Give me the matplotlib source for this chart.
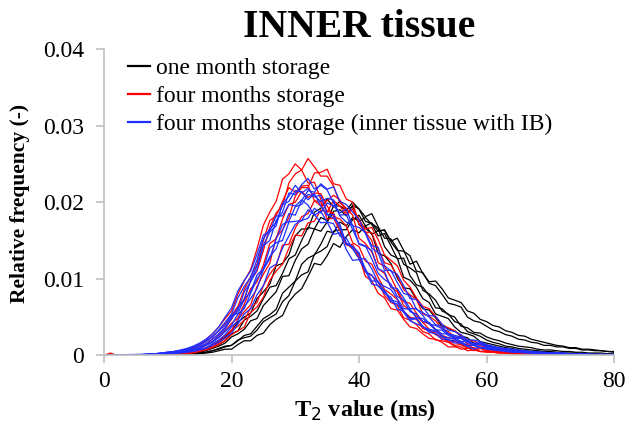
import numpy as np
import matplotlib.pyplot as plt
from matplotlib.lines import Line2D
from matplotlib.ticker import FuncFormatter

plt.rcParams['font.family'] = ['Liberation Serif', 'DejaVu Serif']

# T2 grid (ms), one histogram bin per ms
t2 = np.arange(0, 81)

# relative frequency, in units of 1e-4
# one month storage
one_month = [
    [0, 0, 0, 0, 0, 0, 0, 0, 0, 0,
     0, 1, 1, 2, 3, 5, 7, 10, 14, 19,
     28, 32, 46, 51, 58, 74, 89, 91, 107, 126,
     131, 150, 167, 165, 180, 176, 195, 195, 189, 200,
     191, 175, 172, 166, 142, 131, 127, 102, 98, 89,
     74, 69, 54, 51, 48, 37, 30, 28, 25, 18,
     16, 14, 12, 10, 9, 7, 6, 5, 5, 4,
     4, 3, 3, 2, 2, 2, 1, 1, 1, 1, 1],
    [0, 0, 0, 0, 0, 0, 0, 0, 0, 0,
     1, 1, 2, 3, 4, 6, 9, 13, 18, 24,
     32, 43, 50, 55, 74, 83, 93, 117, 120, 131,
     156, 165, 165, 187, 192, 204, 194, 201, 191, 194,
     171, 166, 159, 133, 130, 120, 101, 88, 87, 73,
     61, 59, 49, 38, 35, 32, 25, 23, 16, 16,
     13, 11, 9, 8, 7, 6, 5, 4, 4, 3,
     3, 2, 2, 2, 2, 1, 1, 1, 1, 1, 0],
    [0, 0, 0, 0, 0, 0, 0, 0, 0, 0,
     0, 1, 1, 2, 3, 4, 6, 9, 12, 16,
     24, 28, 34, 45, 48, 65, 74, 83, 103, 104,
     124, 139, 145, 165, 162, 174, 188, 190, 182, 196,
     191, 181, 185, 168, 153, 152, 139, 119, 114, 108,
     85, 80, 72, 58, 54, 44, 41, 31, 28, 25,
     20, 17, 15, 12, 11, 9, 8, 7, 6, 5,
     5, 4, 3, 3, 3, 2, 2, 2, 1, 1, 1],
    [0, 0, 0, 0, 0, 0, 0, 0, 0, 0,
     0, 0, 1, 1, 2, 3, 4, 6, 9, 12,
     13, 20, 23, 25, 33, 44, 49, 54, 70, 78,
     97, 105, 109, 132, 136, 142, 162, 164, 164, 177,
     183, 169, 173, 162, 164, 149, 153, 137, 119, 123,
     107, 96, 97, 87, 75, 72, 69, 58, 55, 47,
     44, 39, 37, 32, 30, 26, 25, 21, 19, 17,
     15, 13, 12, 10, 10, 8, 8, 7, 6, 5, 5],
    [0, 0, 0, 0, 0, 0, 0, 0, 0, 0,
     0, 0, 0, 1, 1, 2, 3, 4, 6, 8,
     8, 14, 19, 19, 26, 29, 40, 47, 52, 70,
     80, 87, 103, 120, 118, 130, 146, 141, 155, 164,
     160, 169, 158, 163, 163, 148, 137, 136, 130, 110,
     108, 94, 91, 80, 68, 66, 63, 50, 45, 43,
     38, 33, 31, 27, 25, 21, 20, 17, 16, 13,
     13, 11, 11, 9, 9, 7, 7, 6, 6, 5, 4],
    [0, 0, 0, 0, 0, 0, 0, 0, 0, 0,
     0, 1, 1, 2, 2, 3, 4, 6, 8, 11,
     13, 19, 26, 28, 38, 48, 53, 60, 81, 89,
     97, 119, 127, 131, 145, 162, 160, 174, 169, 180,
     175, 180, 171, 156, 159, 143, 126, 127, 104, 92,
     89, 78, 62, 61, 53, 50, 38, 36, 30, 29,
     24, 21, 19, 16, 14, 12, 11, 10, 8, 7,
     7, 6, 5, 5, 4, 4, 3, 3, 3, 2, 2],
]

# four months storage
four_months = [
    [0, 3, 0, 0, 0, 0, 0, 0, 0, 1,
     1, 2, 3, 5, 7, 11, 15, 21, 28, 36,
     47, 61, 74, 98, 110, 137, 167, 186, 195, 225,
     237, 242, 257, 246, 234, 234, 221, 199, 192, 183,
     153, 146, 135, 113, 107, 89, 83, 65, 59, 51,
     43, 34, 27, 24, 17, 18, 14, 9, 10, 5,
     6, 5, 4, 3, 3, 2, 2, 2, 1, 1,
     1, 1, 1, 1, 0, 0, 0, 0, 0, 0, 0],
    [0, 0, 0, 0, 0, 0, 0, 0, 1, 1,
     2, 3, 4, 7, 10, 15, 21, 28, 37, 48,
     58, 80, 97, 112, 139, 170, 187, 201, 230, 237,
     250, 242, 225, 226, 204, 188, 186, 166, 146, 139,
     129, 103, 97, 81, 75, 61, 59, 47, 37, 35,
     28, 22, 21, 17, 11, 11, 11, 6, 7, 5,
     4, 4, 3, 3, 2, 2, 1, 1, 1, 1,
     1, 1, 0, 0, 0, 0, 0, 0, 0, 0, 0],
    [0, 0, 0, 0, 0, 0, 0, 0, 0, 0,
     1, 1, 2, 3, 5, 7, 10, 14, 19, 26,
     33, 47, 57, 66, 90, 106, 120, 154, 164, 180,
     208, 219, 219, 238, 239, 243, 224, 222, 204, 200,
     171, 161, 150, 121, 116, 102, 85, 70, 68, 55,
     44, 41, 34, 26, 23, 21, 15, 14, 9, 10,
     8, 6, 5, 4, 4, 3, 3, 2, 2, 2,
     1, 1, 1, 1, 1, 0, 0, 0, 0, 0, 0],
    [0, 0, 0, 0, 0, 0, 0, 0, 1, 1,
     2, 3, 4, 6, 9, 13, 18, 24, 32, 41,
     52, 64, 86, 103, 119, 150, 176, 182, 201, 219,
     213, 221, 222, 202, 200, 178, 179, 163, 144, 145,
     129, 109, 104, 96, 78, 69, 65, 49, 46, 40,
     31, 28, 20, 19, 17, 12, 8, 9, 9, 5,
     5, 4, 3, 3, 2, 2, 2, 1, 1, 1,
     1, 0, 0, 0, 0, 0, 0, 0, 0, 0, 0],
    [0, 0, 0, 0, 0, 0, 0, 0, 0, 0,
     1, 1, 2, 3, 4, 6, 8, 12, 16, 22,
     32, 38, 46, 62, 69, 91, 106, 117, 144, 145,
     166, 181, 185, 202, 195, 202, 209, 203, 186, 191,
     178, 161, 160, 139, 121, 118, 104, 86, 79, 73,
     54, 51, 45, 35, 31, 24, 23, 15, 14, 13,
     10, 8, 7, 6, 5, 4, 3, 3, 2, 2,
     2, 1, 1, 1, 1, 1, 0, 0, 0, 0, 0],
    [0, 0, 0, 0, 0, 0, 0, 0, 0, 0,
     0, 1, 1, 2, 3, 5, 7, 10, 14, 19,
     27, 32, 37, 56, 63, 76, 98, 110, 119, 140,
     157, 156, 173, 175, 190, 187, 202, 195, 183, 191,
     177, 165, 167, 151, 131, 124, 117, 98, 89, 75,
     64, 61, 51, 40, 36, 32, 26, 19, 19, 14,
     12, 10, 8, 7, 6, 5, 4, 3, 3, 2,
     2, 2, 1, 1, 1, 1, 1, 0, 0, 0, 0],
    [0, 0, 0, 0, 0, 0, 0, 0, 0, 1,
     1, 2, 3, 4, 6, 9, 13, 18, 24, 32,
     42, 49, 67, 87, 96, 118, 146, 152, 178, 197,
     200, 214, 206, 212, 211, 195, 181, 178, 169, 147,
     142, 123, 119, 102, 86, 80, 73, 57, 50, 47,
     35, 32, 29, 21, 19, 13, 14, 10, 6, 9,
     6, 5, 4, 3, 3, 2, 2, 2, 1, 1,
     1, 1, 0, 0, 0, 0, 0, 0, 0, 0, 0],
]

# four months storage, inner tissue with internal browning
four_months_ib = [
    [0, 0, 0, 0, 0, 1, 1, 1, 2, 2,
     3, 4, 5, 7, 8, 10, 14, 18, 26, 34,
     50, 62, 72, 98, 117, 143, 150, 176, 187, 212,
     210, 223, 231, 217, 222, 216, 199, 183, 184, 164,
     146, 143, 126, 107, 99, 93, 77, 72, 57, 54,
     44, 43, 34, 28, 28, 23, 18, 19, 13, 10,
     10, 9, 8, 7, 6, 5, 5, 4, 4, 3,
     3, 3, 2, 2, 2, 2, 1, 1, 1, 1, 1],
    [0, 0, 0, 0, 0, 0, 1, 1, 1, 2,
     2, 3, 4, 5, 6, 8, 10, 15, 20, 27,
     37, 45, 64, 74, 87, 112, 129, 139, 163, 185,
     183, 202, 215, 213, 224, 217, 220, 201, 197, 187,
     177, 159, 140, 134, 111, 111, 95, 81, 78, 60,
     56, 50, 40, 38, 28, 26, 24, 20, 14, 16,
     12, 10, 9, 8, 7, 6, 5, 4, 4, 3,
     3, 2, 2, 2, 2, 1, 1, 1, 1, 1, 1],
    [0, 0, 0, 0, 0, 1, 1, 1, 2, 3,
     4, 5, 6, 8, 10, 13, 18, 24, 33, 43,
     54, 75, 90, 102, 125, 152, 165, 173, 197, 201,
     215, 213, 203, 211, 195, 183, 184, 166, 147, 142,
     134, 109, 105, 90, 85, 72, 70, 58, 46, 48,
     38, 32, 31, 26, 20, 19, 18, 13, 13, 10,
     9, 8, 7, 6, 5, 4, 4, 3, 3, 2,
     2, 2, 2, 1, 1, 1, 1, 1, 1, 1, 0],
    [0, 0, 0, 0, 0, 0, 1, 1, 1, 2,
     2, 3, 4, 5, 7, 9, 13, 17, 23, 31,
     39, 54, 61, 81, 100, 112, 126, 152, 171, 175,
     194, 197, 210, 208, 201, 205, 203, 182, 174, 170,
     145, 142, 137, 113, 109, 89, 87, 75, 61, 61,
     52, 41, 39, 35, 28, 24, 23, 16, 16, 16,
     12, 10, 9, 8, 7, 6, 5, 4, 4, 3,
     3, 2, 2, 2, 1, 1, 1, 1, 1, 1, 1],
    [0, 0, 0, 0, 1, 1, 1, 2, 2, 3,
     4, 5, 7, 9, 12, 16, 21, 28, 37, 50,
     62, 84, 98, 110, 132, 157, 162, 182, 182, 197,
     195, 203, 196, 183, 188, 174, 158, 160, 138, 124,
     125, 111, 93, 91, 81, 76, 60, 58, 48, 49,
     37, 34, 32, 24, 23, 21, 16, 12, 14, 10,
     9, 8, 7, 6, 5, 5, 4, 4, 3, 3,
     3, 2, 2, 2, 2, 1, 1, 1, 1, 1, 1],
    [0, 0, 0, 0, 0, 0, 0, 1, 1, 1,
     2, 2, 3, 4, 5, 7, 9, 13, 17, 23,
     29, 41, 54, 61, 79, 91, 114, 119, 140, 156,
     171, 176, 179, 192, 186, 199, 195, 186, 191, 169,
     167, 160, 143, 141, 117, 110, 106, 91, 74, 73,
     63, 52, 51, 41, 33, 31, 27, 20, 20, 18,
     14, 12, 10, 9, 8, 7, 6, 5, 4, 4,
     3, 3, 3, 2, 2, 2, 1, 1, 1, 1, 1],
    [0, 0, 0, 0, 1, 1, 1, 2, 2, 3,
     4, 5, 6, 8, 11, 14, 19, 25, 32, 39,
     52, 55, 73, 83, 105, 113, 140, 147, 150, 174,
     175, 176, 190, 184, 173, 174, 172, 156, 153, 139,
     126, 126, 113, 95, 90, 86, 74, 61, 60, 49,
     48, 41, 33, 33, 26, 22, 22, 18, 14, 14,
     11, 10, 9, 8, 7, 6, 5, 5, 4, 4,
     3, 3, 3, 2, 2, 2, 2, 1, 1, 1, 1],
    [0, 0, 0, 0, 0, 0, 1, 1, 1, 2,
     3, 4, 5, 6, 8, 11, 15, 21, 28, 36,
     48, 59, 83, 96, 112, 144, 161, 169, 198, 208,
     222, 212, 218, 207, 209, 185, 179, 171, 145, 142,
     132, 113, 97, 97, 83, 70, 67, 56, 45, 41,
     38, 30, 28, 21, 21, 16, 16, 12, 8, 11,
     8, 7, 6, 5, 4, 4, 3, 3, 2, 2,
     2, 2, 1, 1, 1, 1, 1, 1, 1, 0, 0],
]

labels = ['one month storage', 'four months storage',
          'four months storage (inner tissue with IB)']
colors = ['black', '#ff0000', '#1f2fff']

fig = plt.figure(figsize=(6.44, 4.34), dpi=100)
ax = fig.add_axes([0.1615, 0.1813, 0.792, 0.7058])

for group, col in zip([one_month, four_months, four_months_ib], colors):
    for curve in group:
        ax.plot(t2, np.array(curve) * 1e-4, color=col, lw=0.9)

ax.set_xlim(0, 80)
ax.set_ylim(0, 0.04)
ax.set_xticks([0, 20, 40, 60, 80])
ax.set_yticks([0, 0.01, 0.02, 0.03, 0.04])
ax.yaxis.set_major_formatter(FuncFormatter(lambda v, p: '0' if v == 0 else '%.2f' % v))

for side in ['top', 'right']:
    ax.spines[side].set_visible(False)
for side in ['left', 'bottom']:
    ax.spines[side].set_color('#bfbfbf')
    ax.spines[side].set_linewidth(1.2)
ax.tick_params(direction='out', length=5.5, width=1.2, color='#bfbfbf', labelsize=17)
ax.tick_params(axis='y', pad=9)
ax.tick_params(axis='x', pad=6)

ax.set_title('INNER tissue', fontsize=28.5, fontweight='bold', pad=8.5)
ax.set_xlabel('T$_2$ value (ms)', fontsize=17.5, fontweight='bold')
ax.set_ylabel('Relative frequency (-)', fontsize=15.5, fontweight='bold')
ax.xaxis.set_label_coords(0.511, -0.136)
ax.yaxis.set_label_coords(-0.145, 0.497)

handles = [Line2D([], [], color=c, lw=1.6) for c in colors]
ax.legend(handles, labels, loc='upper left', bbox_to_anchor=(0.047, 0.972),
          frameon=False, fontsize=17, handlelength=0.93, handletextpad=0.25,
          labelspacing=0.27, borderaxespad=0, borderpad=0)

fig.savefig('out.png', dpi=100)
